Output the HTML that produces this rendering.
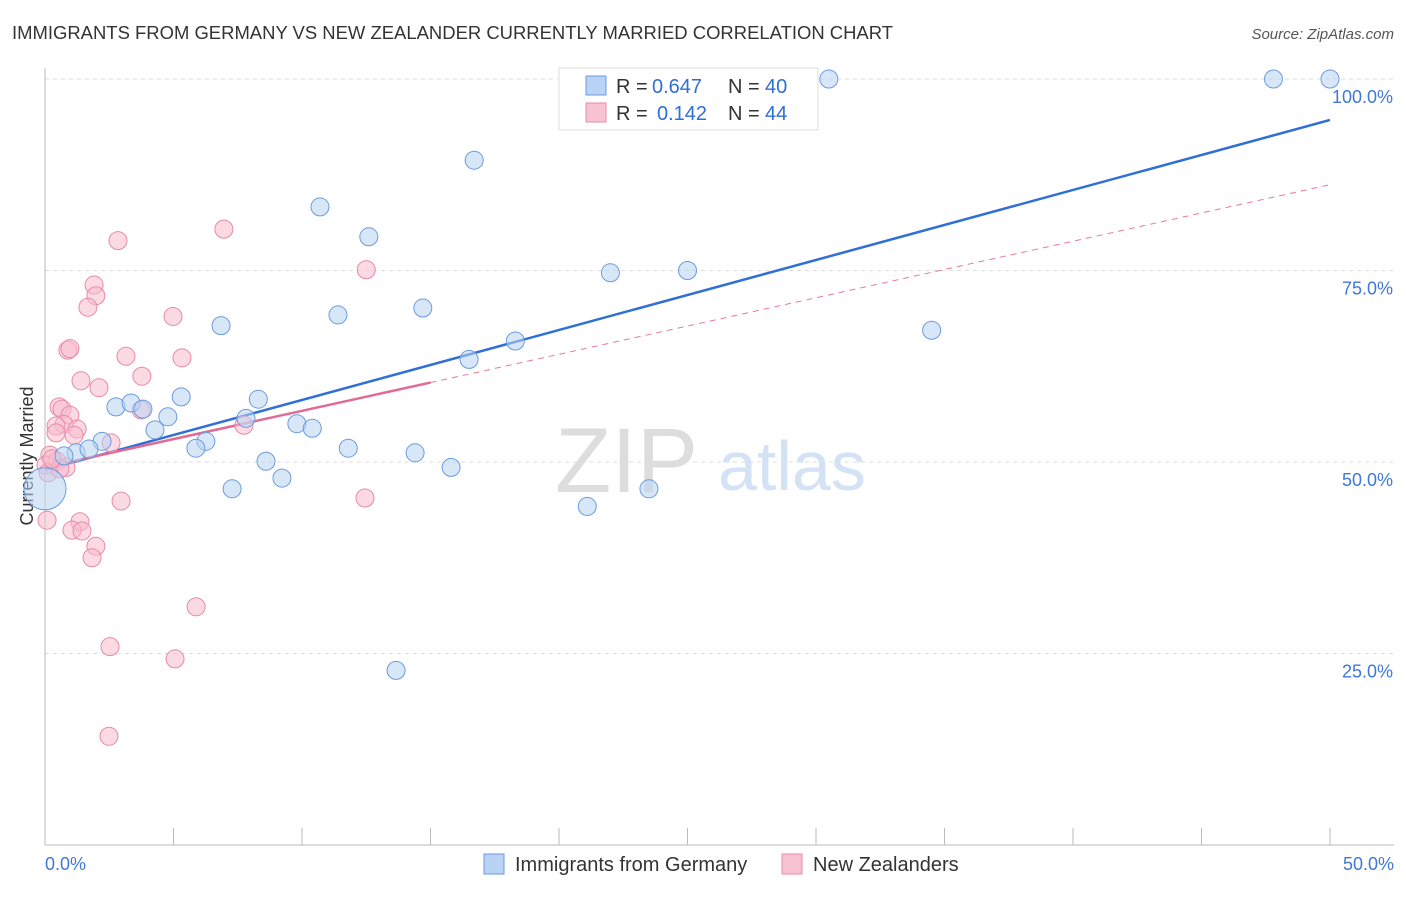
<!DOCTYPE html>
<html><head><meta charset="utf-8"><style>
body{margin:0;background:#fff;font-family:"Liberation Sans",sans-serif}
svg text{font-family:"Liberation Sans",sans-serif}
</style></head><body>
<svg id="chart" width="1406" height="892">
<text x="12" y="39" font-size="18" fill="#333" textLength="881" lengthAdjust="spacingAndGlyphs">IMMIGRANTS FROM GERMANY VS NEW ZEALANDER CURRENTLY MARRIED CORRELATION CHART</text>
<text x="1394" y="39" font-size="15" fill="#555" font-style="italic" text-anchor="end">Source: ZipAtlas.com</text>
<text x="33" y="456" font-size="18" fill="#333" text-anchor="middle" transform="rotate(-90 33 456)">Currently Married</text>
<g id="grid"></g>
<text x="555" y="492" font-size="92" fill="#ddd" font-family="Liberation Serif">ZIP</text>
<text x="718" y="490" font-size="70" fill="#d4e2f5">atlas</text>
<g id="trend"></g>
<g id="pts"></g>
<g>
<rect x="559" y="68" width="259" height="62" fill="#fff" stroke="#ddd"/>
<rect x="586" y="76" width="20" height="19" fill="#b8d3f3" stroke="#6a9be0"/>
<rect x="586" y="103" width="20" height="19" fill="#f7c3d3" stroke="#e88aa6"/>
<text x="616" y="93" font-size="20" fill="#333">R =</text>
<text x="652" y="93" font-size="20" fill="#2f6fd6">0.647</text>
<text x="728" y="93" font-size="20" fill="#333">N =</text>
<text x="765" y="93" font-size="20" fill="#2f6fd6">40</text>
<text x="616" y="120" font-size="20" fill="#333">R =</text>
<text x="657" y="120" font-size="20" fill="#2f6fd6">0.142</text>
<text x="728" y="120" font-size="20" fill="#333">N =</text>
<text x="765" y="120" font-size="20" fill="#2f6fd6">44</text>
</g>
<g>
<rect x="484" y="854" width="20" height="20" fill="#b8d3f3" stroke="#6a9be0"/>
<text x="515" y="871" font-size="20" fill="#333">Immigrants from Germany</text>
<rect x="782" y="854" width="20" height="20" fill="#f7c3d3" stroke="#e88aa6"/>
<text x="813" y="871" font-size="20" fill="#333">New Zealanders</text>
</g>
</svg>
<script>
const yTicks=[25,50,75,100];
const yTickLabels=["25.0%","50.0%","75.0%","100.0%"];
const xTickLabels=["0.0%","50.0%"];
const blueX=[30.5,47.8,50,16.7,10.7,12.6,22,25,6.85,11.4,14.7,34.5,18.3,16.5,5.3,8.3,2.76,3.35,3.81,4.78,7.82,4.28,9.8,10.4,6.26,5.87,2.22,1.21,1.71,0.74,11.8,14.4,8.6,15.8,7.28,9.22,21.1,23.5,13.66,0];
const blueY=[100,100,100,89.4,83.3,79.4,74.7,75,67.8,69.2,70.1,67.2,65.8,63.4,58.5,58.2,57.2,57.7,56.9,55.9,55.7,54.2,55,54.4,52.7,51.8,52.7,51.2,51.7,50.8,51.8,51.2,50.1,49.3,46.5,47.9,44.2,46.5,22.8,46.5];
const pinkX=[2.84,6.96,12.5,1.91,1.98,1.67,4.98,0.89,0.97,3.15,5.33,3.77,1.4,2.1,0.545,0.66,0.97,0.74,0.43,1.25,3.74,0.43,1.13,7.74,2.57,0.19,0.47,0.04,0.82,0.12,0.58,2.96,12.45,0.08,1.36,1.05,1.44,1.98,1.83,5.88,2.53,5.06,2.49,0.27];
const pinkY=[78.9,80.4,75.1,73.1,71.7,70.2,69,64.6,64.8,63.8,63.6,61.2,60.6,59.7,57.2,56.9,56.1,54.9,54.7,54.3,56.8,53.8,53.5,54.8,52.5,50.9,50.1,49.6,49.3,48.6,49.1,44.9,45.3,42.4,42.2,41.1,41,39,37.5,31.1,25.9,24.3,14.2,50.4];
const blueTrend=[48.96,94.65];
const pinkTrend=[49.3,86.2];
const X=v=>45+v/50*1285, Y=v=>845-v/100*766;
const ns="http://www.w3.org/2000/svg";
function mk(t,a,p){const e=document.createElementNS(ns,t);for(const k in a)e.setAttribute(k,a[k]);p.appendChild(e);return e;}
const g=document.getElementById('grid');
yTicks.forEach((t,i)=>{
 const l=mk('line',{x1:45,x2:1394,y1:Y(t),y2:Y(t),stroke:'#ddd','stroke-dasharray':'4 4'},g);
 
 
 const tx=mk('text',{x:1393,y:Y(t)+24,'font-size':18,fill:'#3f78d6','text-anchor':'end'},g);
 tx.textContent=yTickLabels[i];
 
 
});
const ax=mk('line',{x1:45,x2:45,y1:68,y2:845,stroke:'#bbb'},g);


const bx=mk('line',{x1:45,x2:1394,y1:845,y2:845,stroke:'#bbb'},g);


for(let i=0;i<=10;i++){const t=mk('line',{x1:X(i*5),x2:X(i*5),y1:828,y2:845,stroke:'#bbb'},g);
 
 }
xTickLabels.forEach((s,i)=>{const t=mk('text',{x:i?1394:45,y:870,'font-size':18,fill:'#3f78d6','text-anchor':i?'end':'start'},g);t.textContent=s;
 
 });
const tr=document.getElementById('trend');
const b=mk('line',{x1:X(0),y1:Y(blueTrend[0]),x2:X(50),y2:Y(blueTrend[1]),stroke:'#2f6fd6','stroke-width':2.5},tr);


const pv=x=>pinkTrend[0]+(pinkTrend[1]-pinkTrend[0])*x/50;
const pd=mk('line',{x1:X(15),y1:Y(pv(15)),x2:X(50),y2:Y(pv(50)),stroke:'#e57a9c','stroke-width':1,'stroke-dasharray':'6 5'},tr);


const ps=mk('line',{x1:X(0),y1:Y(pv(0)),x2:X(15),y2:Y(pv(15)),stroke:'#e36a93','stroke-width':2.5},tr);


const P=document.getElementById('pts');
pinkX.forEach((x,i)=>{const c=mk('circle',{cx:X(x),cy:Y(pinkY[i]),r:9,fill:'#f7bccd','fill-opacity':0.55,stroke:'#e88aa6','stroke-width':1},P);
 
 });
blueX.forEach((x,i)=>{const c=mk('circle',{cx:X(x),cy:Y(blueY[i]),r:i==39?21:9,fill:'#b8d3f3','fill-opacity':0.55,stroke:'#6a9be0','stroke-width':1},P);
 
 });
</script>
</body></html>
